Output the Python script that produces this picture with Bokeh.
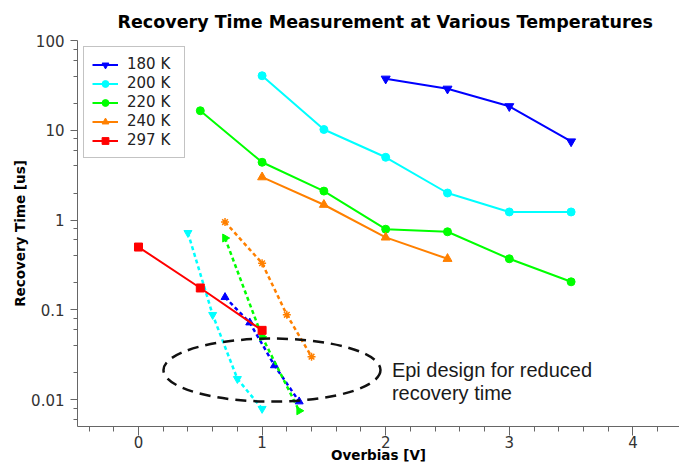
import numpy as np
from bokeh.plotting import figure
from bokeh.models import FixedTicker, Label, CustomJSTickFormatter
from bokeh.embed import file_html
from bokeh.resources import INLINE

# ---- data ----
temps = ["180 K", "200 K", "220 K", "240 K", "297 K"]
colors = ["#0000ff", "#00ffff", "#00ff00", "#ff8000", "#ff0000"]
markers = ["inverted_triangle", "circle", "circle", "triangle", "square"]

x_180 = [2.0, 2.5, 3.0, 3.5]
y_180 = [37.5, 29.0, 18.5, 7.5]
x_200 = [1.0, 1.5, 2.0, 2.5, 3.0, 3.5]
y_200 = [40.5, 10.2, 5.0, 2.0, 1.23, 1.23]
x_220 = [0.5, 1.0, 1.5, 2.0, 2.5, 3.0, 3.5]
y_220 = [16.5, 4.4, 2.1, 0.79, 0.74, 0.37, 0.205]
x_240 = [1.0, 1.5, 2.0, 2.5]
y_240 = [3.0, 1.48, 0.64, 0.37]
x_297 = [0.0, 0.5, 1.0]
y_297 = [0.5, 0.175, 0.059]

# epi design (dashed) series
xe_180 = [0.7, 0.9, 1.1, 1.3]
ye_180 = [0.138, 0.072, 0.024, 0.0095]
xe_200 = [0.4, 0.6, 0.8, 1.0]
ye_200 = [0.72, 0.088, 0.017, 0.0079]
xe_220 = [0.7, 1.0, 1.3]
ye_220 = [0.63, 0.05, 0.0075]
xe_240 = [0.7, 1.0, 1.2, 1.4]
ye_240 = [0.95, 0.33, 0.088, 0.03]

x_major = [0, 1, 2, 3, 4]
x_minor = [round(v, 1) for v in np.arange(-0.4, 4.45, 0.2)]
y_major = [0.01, 0.1, 1, 10, 100]
y_minor = [m * d for d in [0.001, 0.01, 0.1, 1, 10] for m in (2, 4, 6, 8)]

annot_lines = ["Epi design for reduced", "recovery time"]
annot_x = 2.05
annot_y = [0.0213, 0.0117]
ellipse_center = (1.08, 0.0213)

solid = [(x_180, y_180), (x_200, y_200), (x_220, y_220), (x_240, y_240), (x_297, y_297)]
dashed = [(xe_180, ye_180, "#0000ff", "triangle", 0.0),
          (xe_200, ye_200, "#00ffff", "inverted_triangle", 0.0),
          (xe_220, ye_220, "#00ff00", "triangle", -np.pi / 2),
          (xe_240, ye_240, "#ff8000", "asterisk", 0.0)]

p = figure(width=679, height=465, y_axis_type="log",
           x_range=(-0.4935, 4.377), y_range=(0.00501, 100),
           output_backend="svg", toolbar_location=None,
           min_border_left=77, min_border_right=0,
           min_border_top=40, min_border_bottom=38)

p.title.text = "Recovery Time Measurement at Various Temperatures"
p.title.align = "left"
p.title.offset = 40
p.title.standoff = 17
p.title.text_font = "DejaVu Sans"
p.title.text_font_style = "bold"
p.title.text_font_size = "17.5px"
p.title.text_color = "#000000"

p.xgrid.visible = False
p.ygrid.visible = False
p.outline_line_color = None

# dashed epi series
for xs, ys, c, m, ang in dashed:
    p.line(xs, ys, line_color=c, line_width=2.5, line_dash="4 3")
    p.scatter(xs, ys, marker=m, size=8, angle=ang, color=c,
              line_width=1.5 if m == "asterisk" else 1)

# solid series
for (xs, ys), lab, c, m in zip(solid, temps, colors, markers):
    p.line(xs, ys, line_color=c, line_width=2, legend_label=lab)
    p.scatter(xs, ys, marker=m, size=9 if "triangle" in m else 8, color=c, legend_label=lab)

# ellipse annotation
p.ellipse(x=[ellipse_center[0]], y=[ellipse_center[1]], width=217, height=63,
          width_units="screen", height_units="screen", fill_color=None,
          line_color="#111111", line_width=2.5, line_dash="11 7")

for txt, yy in zip(annot_lines, annot_y):
    p.add_layout(Label(x=annot_x, y=yy, text=txt, text_font="Liberation Sans",
                       text_font_size="20px", text_baseline="middle", text_color="#1a1a1a"))

# axes
for ax in (p.xaxis[0], p.yaxis[0]):
    ax.axis_line_color = "#666666"
    ax.major_tick_line_color = "#666666"
    ax.minor_tick_line_color = "#666666"
    ax.major_tick_in = 0
    ax.minor_tick_in = 0
    ax.major_label_text_font = "DejaVu Sans"
    ax.major_label_text_font_size = "15px"
    ax.major_label_text_color = "#333333"
    ax.axis_label_text_font = "DejaVu Sans"
    ax.axis_label_text_font_style = "bold"
    ax.axis_label_text_font_size = "13.5px"
    ax.axis_label_text_color = "#000000"

p.xaxis.ticker = FixedTicker(ticks=x_major, minor_ticks=x_minor)
p.xaxis.major_tick_out = 9
p.xaxis.minor_tick_out = 5
p.xaxis.major_label_standoff = 0
p.xaxis.axis_label = "Overbias [V]"
p.xaxis.axis_label_standoff = -4

p.yaxis.ticker = FixedTicker(ticks=y_major, minor_ticks=y_minor)
p.yaxis.formatter = CustomJSTickFormatter(code="return tick.toString();")
p.yaxis.major_tick_out = 7
p.yaxis.minor_tick_out = 4
p.yaxis.major_label_standoff = 6
p.yaxis.axis_label = "Recovery Time [us]"
p.yaxis.axis_label_standoff = 0

lg = p.legend[0]
lg.location = "top_left"
lg.margin = 6
lg.padding = 8
lg.spacing = 1
lg.glyph_width = 26
lg.glyph_height = 17
lg.label_height = 17
lg.label_width = 49
lg.label_standoff = 9
lg.label_text_font = "DejaVu Sans"
lg.label_text_font_size = "15px"
lg.label_text_color = "#222222"
lg.border_line_color = "#888888"
lg.border_line_width = 1
lg.background_fill_alpha = 1.0

open("out.html", "w").write(file_html(p, INLINE))
